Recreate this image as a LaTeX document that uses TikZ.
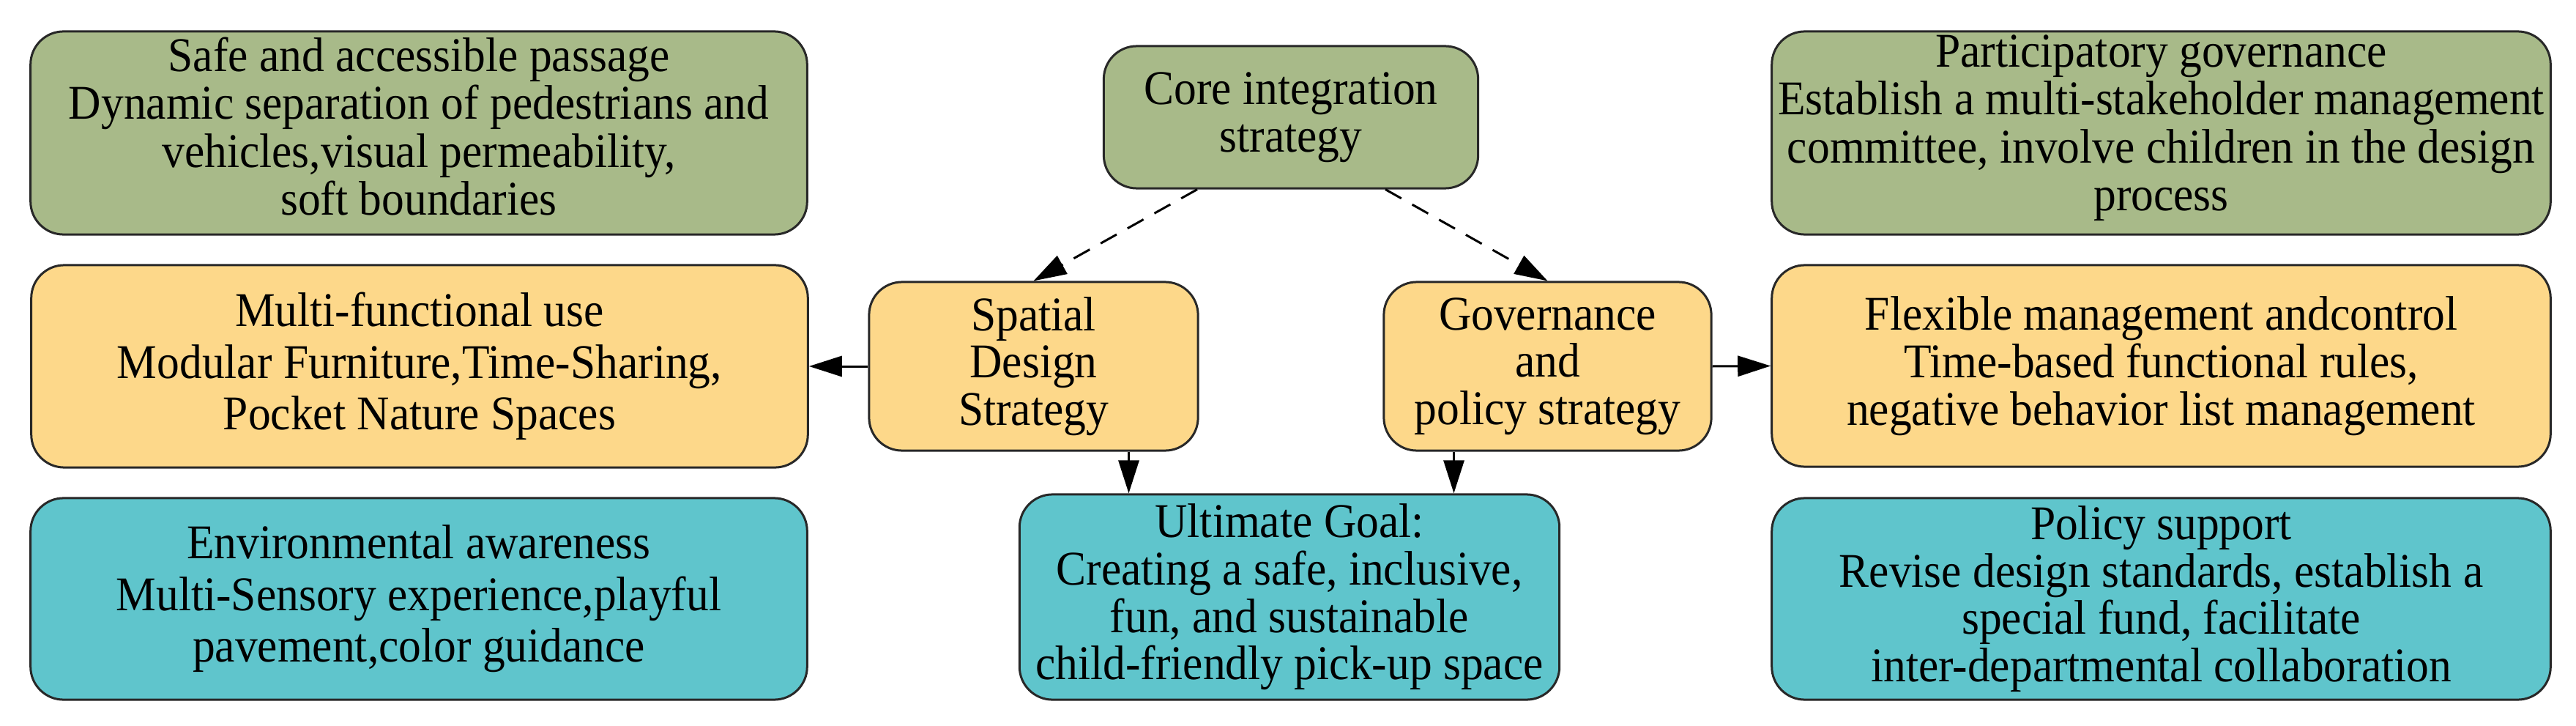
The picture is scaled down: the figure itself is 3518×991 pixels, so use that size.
\documentclass[tikz,border=0pt]{standalone}
\usepackage{fontspec}
\setmainfont[FakeStretch=0.93]{Liberation Serif}
\usetikzlibrary{arrows.meta,calc}
\definecolor{boxgreen}{RGB}{168,186,137}
\definecolor{boxyellow}{RGB}{253,216,138}
\definecolor{boxteal}{RGB}{95,197,204}
\definecolor{edgecol}{RGB}{40,40,40}
\begin{document}
\begin{tikzpicture}[x=0.01cm,y=-0.01cm,
  bx/.style={draw=edgecol, line width=0.03cm, rounded corners=0.45cm, align=center,
    inner sep=0pt, font=\fontsize{18.8pt}{18.4pt}\selectfont},
  gbox/.style={bx, fill=boxgreen},
  ybox/.style={bx, fill=boxyellow},
  tbox/.style={bx, fill=boxteal},
  wide/.style={font=\fontsize{18.8pt}{20pt}\selectfont},
  txt/.style={align=center, inner sep=0pt, font=\fontsize{18.8pt}{18.6pt}\selectfont},
  arr/.style={line width=0.03cm, draw=black, -{Triangle[length=0.45cm,width=0.28cm]}},
  darr/.style={arr, dash pattern=on 0.25cm off 0.17cm}]
\useasboundingbox (0,0) rectangle (3518,991);
\fill[white] (0,0) rectangle (3518,991);

% top row
\node[gbox, minimum width=10.60cm, minimum height=2.77cm] (safe) at (572,181.5) {};
\node[txt] (safetxt) at ($(safe.center)+(0,-9)$)
  {Safe and accessible passage\\Dynamic separation of pedestrians and\\vehicles,visual permeability,\\soft boundaries};
\node[gbox, minimum width=5.11cm, minimum height=1.94cm] (core) at (1763,160)
  {Core integration\\strategy};
\node[gbox, minimum width=10.63cm, minimum height=2.77cm] (part) at (2951.5,181.5) {};
\node[txt] (parttxt) at ($(part.center)+(0,-7)$)
  {Participatory governance\\Establish a multi-stakeholder management\\committee, involve children in the design\\process};

% middle row
\node[ybox, wide, minimum width=10.60cm, minimum height=2.76cm] (multi) at (573,500)
  {Multi-functional use\\Modular Furniture,Time-Sharing,\\Pocket Nature Spaces};
\node[ybox, minimum width=4.49cm, minimum height=2.30cm] (spatial) at (1411.5,500)
  {Spatial\\Design\\Strategy};
\node[ybox, minimum width=4.47cm, minimum height=2.30cm] (gov) at (2113.5,500)
  {Governance\\and\\policy strategy};
\node[ybox, minimum width=10.63cm, minimum height=2.75cm] (flex) at (2951.5,499.5)
  {Flexible management andcontrol\\Time-based functional rules,\\negative behavior list management};

% bottom row
\node[tbox, wide, minimum width=10.60cm, minimum height=2.75cm] (env) at (572,817.5)
  {Environmental awareness\\Multi-Sensory experience,playful\\pavement,color guidance};
\node[tbox, minimum width=7.37cm, minimum height=2.80cm] (ult) at (1761,815)
  {Ultimate Goal:\\Creating a safe, inclusive,\\fun, and sustainable\\child-friendly pick-up space};
\node[tbox, minimum width=10.63cm, minimum height=2.75cm] (pol) at (2951.5,817.5)
  {Policy support\\Revise design standards, establish a\\special fund, facilitate\\inter-departmental collaboration};

% connectors
\draw[darr] ($(core.south)+(-128,0)$) -- (spatial.north);
\draw[darr] ($(core.south)+(129,0)$) -- (gov.north);
\draw[arr] (spatial.west) -- (multi.east);
\draw[arr] (gov.east) -- (flex.west);
\coordinate (sp1) at ($(spatial.south)+(130,0)$);
\coordinate (gv1) at ($(gov.south)+(-128,0)$);
\draw[arr] (sp1) -- (sp1 |- ult.north);
\draw[arr] (gv1) -- (gv1 |- ult.north);
\end{tikzpicture}
\end{document}
